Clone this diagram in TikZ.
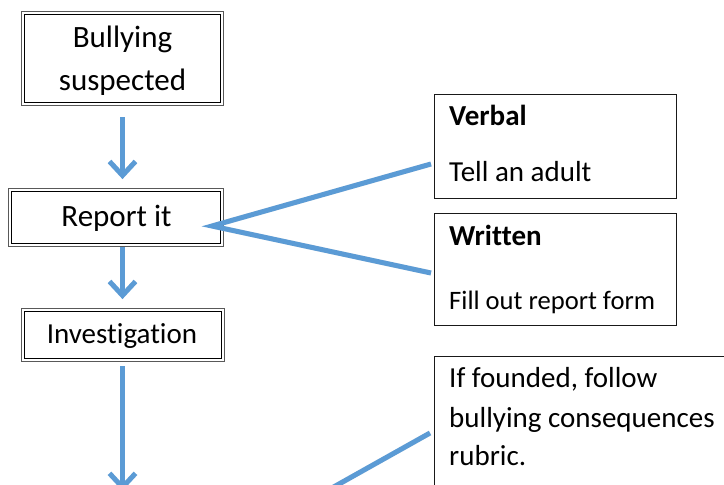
\documentclass[tikz,border=0pt]{standalone}
\usepackage{fontspec}
\setmainfont{Carlito}[Ligatures=NoCommon]
\usetikzlibrary{arrows.meta}
\definecolor{flowblue}{HTML}{5B9BD5}
\tikzset{
  dbox/.style={draw=black, line width=0.8pt, inner sep=0pt},
  outerframe/.style={draw=black!65, line width=0.9pt},
  sbox/.style={draw=black!90, line width=0.9pt, inner sep=0pt},
  flowarrow/.style={draw=flowblue, line width=5pt, -{Straight Barb[length=14pt,width=26pt,line width=5pt]}},
  flowline/.style={draw=flowblue, line width=5pt},
  shadowline/.style={draw=black!25, line width=5pt, opacity=0.35},
  bigtxt/.style={font=\fontsize{31}{38}\selectfont, inner sep=0pt},
  midtxt/.style={font=\fontsize{29}{36}\selectfont, inner sep=0pt},
  smalltxt/.style={font=\fontsize{26.6}{32}\selectfont, inner sep=0pt}
}
\begin{document}
\begin{tikzpicture}[x=1pt,y=-1pt]
\useasboundingbox (0,0) rectangle (724,485);
\clip (0,0) rectangle (724,485);
\fill[white] (0,0) rectangle (724,485);
% left column boxes (inner frame as node, outer frame around it)
\node[dbox, minimum width=196pt, minimum height=88pt] (susp) at (122.5,58.5) {};
\node[dbox, minimum width=209pt, minimum height=52pt] (report) at (116,217.5) {};
\node[dbox, minimum width=197pt, minimum height=47pt] (invest) at (123,335) {};
\foreach \b in {susp,report,invest}{
  \draw[outerframe] ([shift={(-2.5pt,2.5pt)}]\b.north west) rectangle ([shift={(2.5pt,-2.5pt)}]\b.south east);
}
\node[bigtxt, anchor=base] (t1) at (122.5,47) {Bullying};
\node[bigtxt, anchor=base] (t2) at (122.5,90) {suspected};
\node[bigtxt, anchor=base] (t3) at (116.5,226) {Report it};
\node[midtxt, anchor=base] (t4) at (122,343) {Investigation};
% right boxes
\node[sbox, minimum width=242pt, minimum height=104pt] (verbal) at (555,146) {};
\node[sbox, minimum width=242pt, minimum height=112pt] (written) at (555,269) {};
\node[midtxt, anchor=base west] (t5) at (449,125) {\textbf{Verbal}};
\node[midtxt, anchor=base west] (t6) at (449,181) {Tell an adult};
\node[midtxt, anchor=base west] (t7) at (449,245) {\textbf{Written}};
\node[smalltxt, anchor=base west] (t8) at (449,309) {Fill out report form};
% consequences box (runs off the picture)
\coordinate (cnw) at (434,356);
\coordinate (cne) at (740,356);
\coordinate (csw) at (434,500);
\draw[black!90, line width=0.9pt] (cne) -- (cnw) -- (csw);
\node[midtxt, anchor=base west] (t9) at (449,387) {If founded, follow};
\node[midtxt, anchor=base west] (t10) at (449,427) {bullying consequences};
\node[midtxt, anchor=base west] (t11) at (449,465) {rubric.};
% connector points
\coordinate (rp) at (212,226);
\coordinate (vend) at (431,164);
\coordinate (wend) at (431,273);
\coordinate (cstart) at (323,493);
\coordinate (cend) at (430,433);
\coordinate (a3end) at (122.5,491);
% shadows
\begin{scope}[shift={(1.5,2)}]
\draw[shadowline] (rp) -- (vend);
\draw[shadowline] (rp) -- (wend);
\draw[shadowline] (cstart) -- (cend);
\end{scope}
% connectors
\draw[flowline, line join=miter] (vend) -- (rp) -- (wend);
\draw[flowline] (cstart) -- (cend);
\draw[flowarrow, shorten <=14.5pt, shorten >=12pt] (susp.south) -- (report.north -| susp.south);
\draw[flowarrow, shorten <=3.5pt, shorten >=12pt] (report.south -| susp.south) -- (invest.north -| susp.south);
\draw[flowarrow, shorten <=7.5pt] (invest.south -| susp.south) -- (a3end);
\end{tikzpicture}
\end{document}
